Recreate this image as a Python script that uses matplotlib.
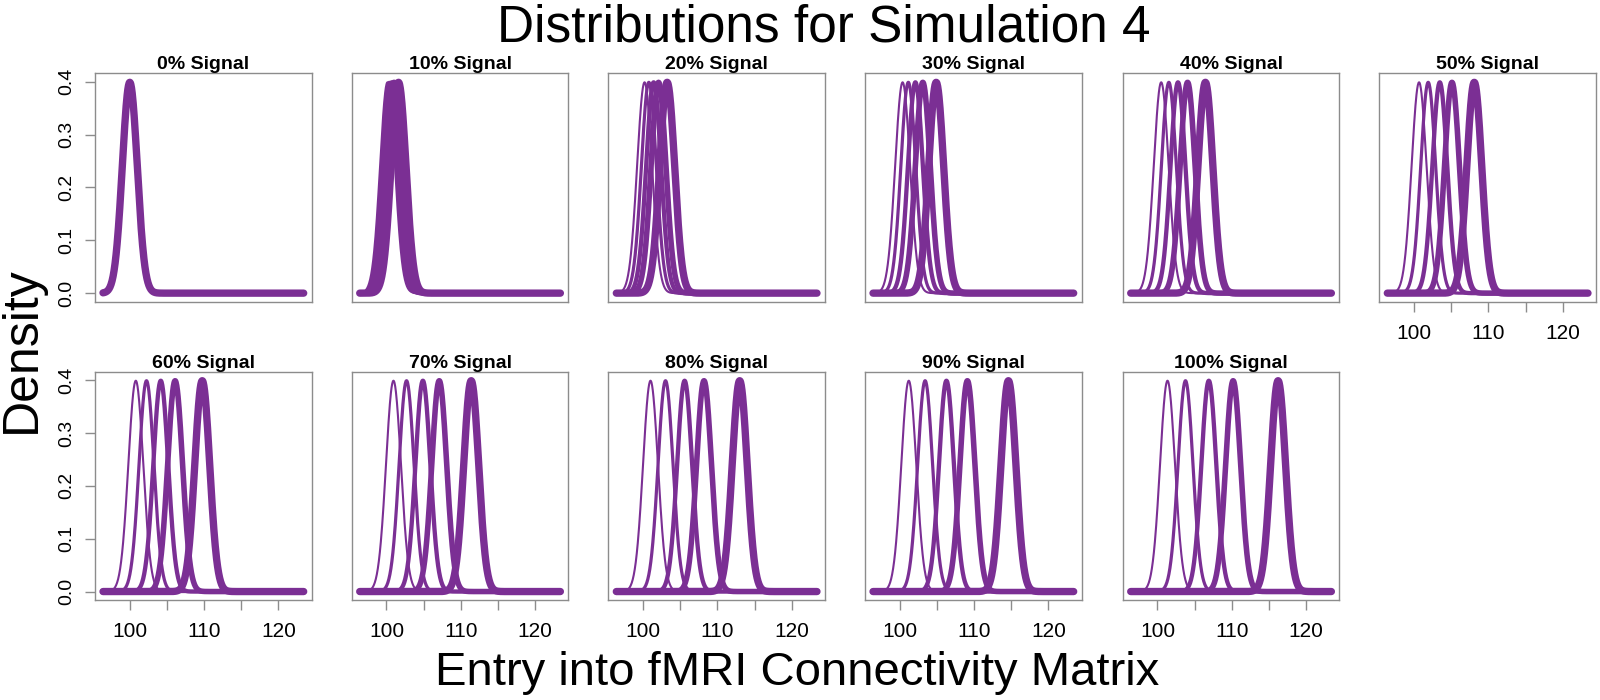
"""Density curves for simulation 4, one panel per signal level."""
import matplotlib
matplotlib.use("Agg")
import matplotlib.pyplot as plt
import numpy as np

plt.rcParams["font.family"] = ["Liberation Sans", "DejaVu Sans"]

PURPLE = "#7B2F94"
GREY = "#8C8C8C"

SIGNAL_LABELS = ["0% Signal", "10% Signal", "20% Signal", "30% Signal", "40% Signal",
                 "50% Signal", "60% Signal", "70% Signal", "80% Signal", "90% Signal",
                 "100% Signal"]

# peak locations (mean of each density curve)
MEANS = [
    [100.0, 100.0, 100.0, 100.0, 100.0],
    [100.14, 100.38, 100.69, 101.02, 101.62],
    [100.2, 100.78, 101.42, 102.08, 103.24],
    [100.38, 101.15, 102.1, 103.1, 104.9],
    [100.5, 101.53, 102.76, 104.05, 106.45],
    [100.67, 101.9, 103.46, 105.1, 108.1],
    [100.81, 102.25, 104.17, 106.1, 109.75],
    [100.94, 102.7, 104.9, 107.1, 111.4],
    [101.0, 103.02, 105.59, 108.2, 113.0],
    [101.21, 103.41, 106.28, 109.1, 114.62],
    [101.35, 103.77, 106.91, 110.18, 116.23],
]
SD = 1.0
X_MIN, X_MAX = 96.4, 123.4

LINE_WIDTHS = [1.5, 2.3, 3.1, 4.0, 5.3]

X_TICKS = [100, 105, 110, 115, 120]
X_TICK_LABELS = ["100", "", "110", "", "120"]
Y_TICKS = [0.0, 0.1, 0.2, 0.3, 0.4]
Y_TICK_LABELS = ["0.0", "0.1", "0.2", "0.3", "0.4"]

W, H = 1600, 700
fig = plt.figure(figsize=(16, 7), dpi=100)

col_left = [95, 351.7, 608.3, 865, 1122.7, 1379.3]
row_top = [73.3, 371.7]
box_w, box_h = 216.7, 228.3

x = np.linspace(X_MIN, X_MAX, 600)
pad = (X_MAX - X_MIN) * 0.04

for i, label in enumerate(SIGNAL_LABELS):
    row, col = divmod(i, 6)
    left = col_left[col] / W
    bottom = 1 - (row_top[row] + box_h) / H
    ax = fig.add_axes([left, bottom, box_w / W, box_h / H])

    for mu, lw in zip(MEANS[i], LINE_WIDTHS):
        y = np.exp(-0.5 * ((x - mu) / SD) ** 2) / (SD * np.sqrt(2 * np.pi))
        ax.plot(x, y, color=PURPLE, linewidth=lw, solid_capstyle="round",
                solid_joinstyle="round")

    ax.set_xlim(X_MIN - pad, X_MAX + pad)
    ax.set_ylim(-0.016, 0.416)
    for s in ax.spines.values():
        s.set_color(GREY)
        s.set_linewidth(1.0)
    ax.set_title(label, fontsize=14, fontweight="bold", pad=2)

    show_x = row == 1 or i == 5
    show_y = col == 0
    if show_x:
        ax.set_xticks(X_TICKS)
        ax.set_xticklabels(X_TICK_LABELS, fontsize=15)
    else:
        ax.set_xticks([])
    if show_y:
        ax.set_yticks(Y_TICKS)
        ax.set_yticklabels(Y_TICK_LABELS, fontsize=14, rotation=90, va="center")
    else:
        ax.set_yticks([])
    ax.tick_params(axis="x", direction="out", length=7, width=1.0,
                   color=GREY, pad=9)
    ax.tick_params(axis="y", direction="out", length=7, width=1.0,
                   color=GREY, pad=7)

fig.text(0.515, 1 - 28 / H, "Distributions for Simulation 4", ha="center",
         va="center", fontsize=37)
fig.text(0.498, 1 - 673 / H, "Entry into fMRI Connectivity Matrix", ha="center",
         va="center", fontsize=34)
fig.text(22 / W, 1 - 350 / H, "Density", ha="center", va="center", rotation=90,
         fontsize=36)

fig.savefig("out.png", dpi=100)
